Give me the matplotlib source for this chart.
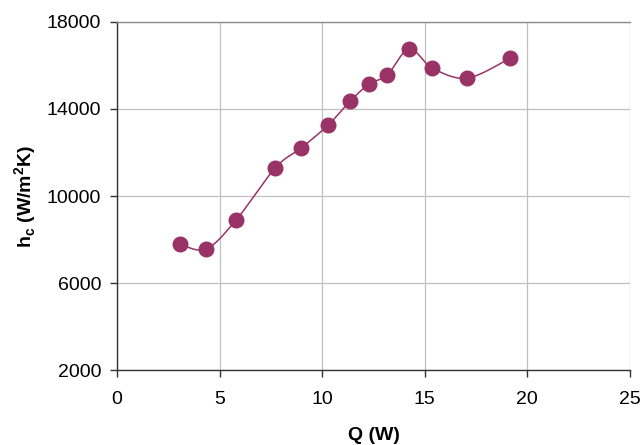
import numpy as np
import matplotlib
matplotlib.use("Agg")
import matplotlib.pyplot as plt

plt.rcParams['font.family'] = ['Liberation Sans', 'DejaVu Sans']
plt.rcParams['mathtext.fontset'] = 'custom'
plt.rcParams['mathtext.rm'] = 'Liberation Sans'
plt.rcParams['mathtext.bf'] = 'Liberation Sans:bold'

# data
q = [3.07, 4.34, 5.80, 7.71, 8.98, 10.29, 11.37, 12.29, 13.17, 14.24, 15.37, 17.07, 19.17]
hc = [7790, 7560, 8890, 11290, 12210, 13260, 14370, 15150, 15560, 16760, 15880, 15420, 16340]
xticks = [0, 5, 10, 15, 20, 25]
yticks = [2000, 6000, 10000, 14000, 18000]

col = '#993366'


def smooth(x, y, n=30):
    # catmull-rom style smoothing like the spreadsheet "smoothed line"
    x = np.asarray(x, float)
    y = np.asarray(y, float)
    px = np.concatenate([[x[0]], x, [x[-1]]])
    py = np.concatenate([[y[0]], y, [y[-1]]])
    xs, ys = [], []
    for i in range(1, len(px) - 2):
        t = np.linspace(0, 1, n)
        p0, p1, p2, p3 = (px[i-1], py[i-1]), (px[i], py[i]), (px[i+1], py[i+1]), (px[i+2], py[i+2])
        for k, lst in ((0, xs), (1, ys)):
            a0, a1, a2, a3 = p0[k], p1[k], p2[k], p3[k]
            c1 = a1 + (a2 - a0) / 6.0
            c2 = a2 - (a3 - a1) / 6.0
            lst.extend((1-t)**3*a1 + 3*(1-t)**2*t*c1 + 3*(1-t)*t**2*c2 + t**3*a2)
    return xs, ys


fig = plt.figure(figsize=(6.44, 4.45), dpi=100)
ax = fig.add_axes([0.1817, 0.1685, 0.7965, 0.7821])

sx, sy = smooth(q, hc)
ax.plot(sx, sy, color=col, lw=1.1, zorder=3)
ax.plot(q, hc, 'o', color=col, ms=10.5, zorder=4)

ax.set_xlim(0, 25)
ax.set_ylim(2000, 18000)
ax.set_xticks(xticks)
ax.set_yticks(yticks)
ax.grid(True, color='#c0c0c0', lw=0.9)
ax.set_axisbelow(True)

ax.spines['right'].set_visible(False)
ax.spines['top'].set_color('#8c8c8c')
ax.spines['top'].set_linewidth(1.0)
for s in ['left', 'bottom']:
    ax.spines[s].set_color('#333333')
    ax.spines[s].set_linewidth(1.0)
ax.tick_params(direction='out', length=5, width=1, color='#333333', labelsize=14)
ax.tick_params(axis='x', pad=10)
ax.tick_params(axis='y', pad=6.5)

ax.set_xlabel('Q (W)', fontsize=14, fontweight='bold', labelpad=14)
ax.set_ylabel(r'h$_\mathbf{c}$ (W/m$^\mathbf{2}$K)', fontsize=14, fontweight='bold', labelpad=5.5)

fig.savefig('out.png', dpi=100)
